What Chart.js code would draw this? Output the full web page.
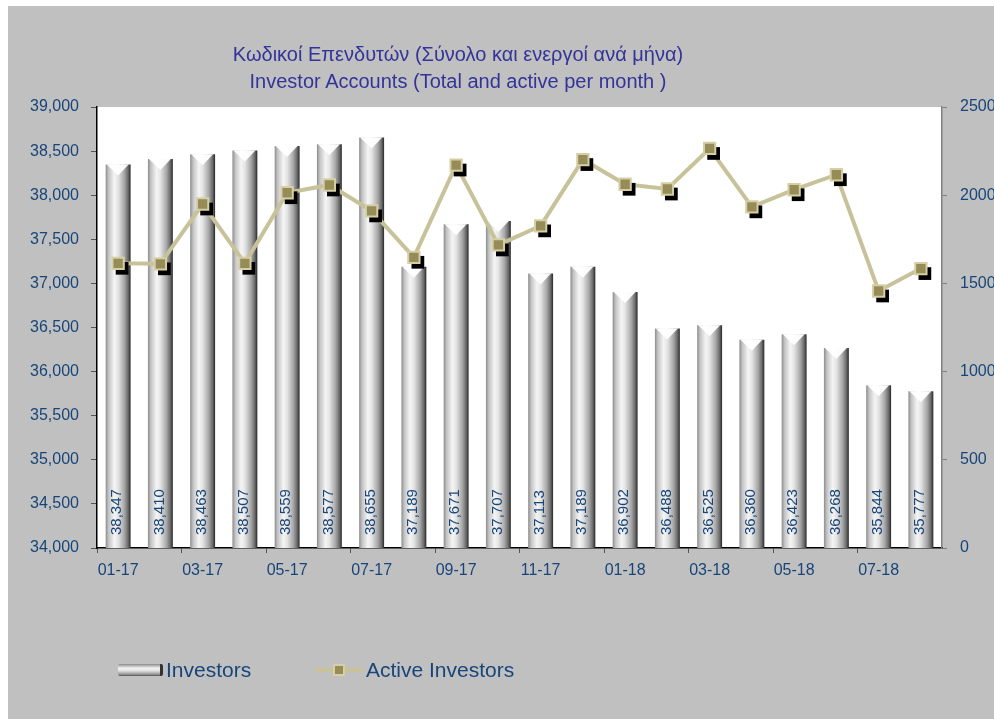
<!DOCTYPE html>
<html>
<head>
<meta charset="utf-8">
<script src="https://cdn.jsdelivr.net/npm/chart.js@4.4.1/dist/chart.umd.min.js"></script>
<style>
  body { margin: 0; background: #fff; width: 994px; height: 719px; overflow: hidden; position: relative; font-family: "Liberation Sans", Arial, sans-serif; }
  #frame { position: absolute; left: 8px; top: 6px; width: 986px; height: 713px; background: #c0c0c0; }
  #chart { position: absolute; left: 0; top: 0; }
  .title { position: absolute; left: 0; width: 900px; text-align: center; color: #33339a; font-size: 20px; white-space: nowrap; }
  #legend { position: absolute; top: 651px; left: 0; height: 26px; color: #17457a; font-size: 21px; }
  .item { position: absolute; top: 0; white-space: nowrap; line-height: 26px; }
  .barIcon { position: absolute; top: 7px; width: 45px; height: 12px; border-radius: 2px;
    background: linear-gradient(to bottom, #8a8a8a 0%, #f4f4f4 35%, #e2e2e2 55%, #9a9a9a 85%, #505050 100%);
    border-right: 3px solid #333; box-sizing: border-box; }
  .lineIcon { position: absolute; top: 11px; width: 47px; height: 4px; background: #c8c29a; }
  .lineIcon i { position: absolute; left: 18px; top: -4px; width: 8px; height: 8px; background: #958c58; border: 2px solid #d6cfa5; }
</style>
</head>
<body>
<div id="frame">
  <canvas id="chart" width="986" height="713"></canvas>
  <div class="title" style="top:37px">Κωδικοί Επενδυτών (Σύνολο και ενεργοί ανά μήνα)</div>
  <div class="title" style="top:64px">Investor Accounts (Total and active per month )</div>
  <div id="legend">
    <div class="item" style="left:110px"><span class="barIcon" style="left:0"></span><span style="padding-left:48px">Investors</span></div>
    <div class="item" style="left:307px"><span class="lineIcon" style="left:0"><i></i></span><span style="padding-left:51px">Active Investors</span></div>
  </div>
</div>
<script>
var months = ['01-17','02-17','03-17','04-17','05-17','06-17','07-17','08-17','09-17','10-17',
              '11-17','12-17','01-18','02-18','03-18','04-18','05-18','06-18','07-18','08-18'];
var investors = [38347, 38410, 38463, 38507, 38559, 38577, 38655, 37189, 37671, 37707,
                 37113, 37189, 36902, 36488, 36525, 36360, 36423, 36268, 35844, 35777];
var activeInvestors = [1614, 1611, 1950, 1614, 2014, 2058, 1911, 1648, 2171, 1718,
                       1826, 2202, 2062, 2035, 2265, 1934, 2031, 2116, 1457, 1584];

var navy = '#17457a';
var barPct = 0.59;

function barGradient(c) {
    var chart = c.chart;
    var xs = chart.scales.x;
    if (!xs || c.dataIndex === undefined) return '#cccccc';
    var cx = xs.getPixelForValue(c.dataIndex);
    var w = xs.width / months.length * barPct;
    if (!isFinite(cx) || !isFinite(w) || w <= 0) return '#cccccc';
    var g = chart.ctx.createLinearGradient(cx - w / 2, 0, cx + w / 2, 0);
    g.addColorStop(0, '#8c8c8c');
    g.addColorStop(0.12, '#c4c4c4');
    g.addColorStop(0.35, '#f5f5f5');
    g.addColorStop(0.5, '#e4e4e4');
    g.addColorStop(0.75, '#a6a6a6');
    g.addColorStop(0.9, '#6a6a6a');
    g.addColorStop(1, '#262626');
    return g;
}

var plotBg = {
    id: 'plotBg',
    beforeDraw: function(chart) {
        var a = chart.chartArea, ctx = chart.ctx;
        ctx.save();
        ctx.fillStyle = '#ffffff';
        ctx.fillRect(a.left, a.top, a.right - a.left, a.bottom - a.top);
        ctx.restore();
    }
};

var barDeco = {
    id: 'barDeco',
    afterDatasetDraw: function(chart, args) {
        var ctx = chart.ctx;
        if (args.index === 0) {
            // top bevel of the cylinders
            args.meta.data.forEach(function(el) {
                var w = el.width;
                ctx.save();
                ctx.beginPath();
                ctx.moveTo(el.x - w / 2 + 1, el.y);
                ctx.lineTo(el.x + w / 2 - 2, el.y);
                ctx.lineTo(el.x, el.y + 11);
                ctx.closePath();
                ctx.fillStyle = 'rgba(255,255,255,0.95)';
                ctx.fill();
                ctx.restore();
            });
            // values written up the bars
            var bottom = chart.scales.y.bottom;
            args.meta.data.forEach(function(el, i) {
                ctx.save();
                ctx.translate(el.x - 1, bottom - 13);
                ctx.rotate(-Math.PI / 2);
                ctx.font = '15px "Liberation Sans", Arial, sans-serif';
                ctx.fillStyle = navy;
                ctx.textAlign = 'left';
                ctx.textBaseline = 'middle';
                ctx.fillText(investors[i].toLocaleString('en-US'), 0, 0);
                ctx.restore();
            });
        }
    }
};

// the marker shadows are the same points, drawn black and shifted down-right
var markerShadow = {
    id: 'markerShadow',
    beforeDatasetDraw: function(chart, args) {
        if (args.index === 2) {
            chart.ctx.save();
            chart.ctx.translate(4, 5);
        }
    },
    afterDatasetDraw: function(chart, args) {
        if (args.index === 2) chart.ctx.restore();
    }
};

new Chart(document.getElementById('chart'), {
    type: 'bar',
    data: {
        labels: months,
        datasets: [{
            label: 'Investors',
            data: investors,
            backgroundColor: barGradient,
            borderWidth: 0,
            barPercentage: barPct,
            categoryPercentage: 1,
            yAxisID: 'y',
            order: 4
        }, {
            type: 'line',
            label: 'Active Investors',
            data: activeInvestors,
            borderColor: '#c8c29a',
            borderWidth: 4,
            pointRadius: 0,
            tension: 0,
            yAxisID: 'y1',
            order: 3
        }, {
            type: 'line',
            label: 'shadow',
            data: activeInvestors,
            showLine: false,
            pointStyle: 'rect',
            pointRadius: 9,
            pointBackgroundColor: '#000000',
            pointBorderWidth: 0,
            yAxisID: 'y1',
            order: 2
        }, {
            type: 'line',
            label: 'Active Investors markers',
            data: activeInvestors,
            showLine: false,
            pointStyle: 'rect',
            pointRadius: 8,
            pointBackgroundColor: '#958c58',
            pointBorderColor: '#d6cfa5',
            pointBorderWidth: 2,
            yAxisID: 'y1',
            order: 1
        }]
    },
    options: {
        responsive: false,
        animation: false,
        layout: { padding: { left: 0, right: 0, top: 101, bottom: 131 } },
        plugins: {
            legend: { display: false },
            title: { display: false },
            tooltip: { enabled: false }
        },
        scales: {
            x: {
                grid: {
                    offset: true,
                    drawOnChartArea: false,
                    tickLength: 5,
                    color: function(c) { return c.index % 2 === 0 ? '#555555' : 'rgba(0,0,0,0)'; }
                },
                border: { color: '#000000', width: 1.5 },
                ticks: {
                    autoSkip: false,
                    maxRotation: 0,
                    padding: 8,
                    color: navy,
                    font: { size: 16, family: '"Liberation Sans", Arial, sans-serif' },
                    callback: function(v, i) { return i % 2 === 0 ? months[i] : ''; }
                },
                afterFit: function(s) { s.height = 40; }
            },
            y: {
                position: 'left',
                min: 34000,
                max: 39000,
                grid: { drawOnChartArea: false, tickLength: 6, color: '#555555' },
                border: { color: '#000000', width: 1.5 },
                ticks: {
                    stepSize: 500,
                    padding: 12,
                    color: navy,
                    font: { size: 16, family: '"Liberation Sans", Arial, sans-serif' },
                    callback: function(v) { return v.toLocaleString('en-US'); }
                },
                afterFit: function(s) { s.width = 89; }
            },
            y1: {
                position: 'right',
                min: 0,
                max: 2500,
                grid: { drawOnChartArea: false, tickLength: 5, color: '#808080' },
                border: { color: '#808080', width: 1.5 },
                ticks: {
                    stepSize: 500,
                    padding: 13,
                    color: navy,
                    font: { size: 16, family: '"Liberation Sans", Arial, sans-serif' },
                    callback: function(v) { return String(v); }
                },
                afterFit: function(s) { s.width = 52; }
            }
        }
    },
    plugins: [plotBg, barDeco, markerShadow]
});
</script>
</body>
</html>
